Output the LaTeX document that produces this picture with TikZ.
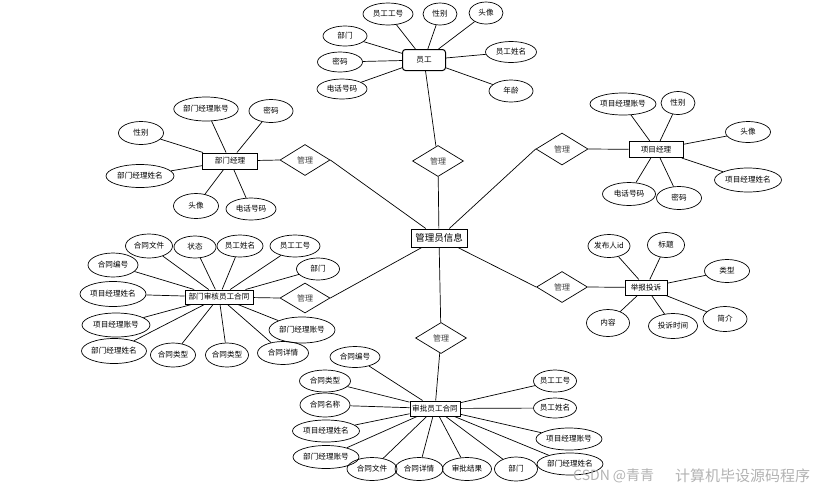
\documentclass[tikz,border=0pt]{standalone}
\usepackage{fontspec}
\setmainfont{Noto Sans CJK SC}
\usetikzlibrary{shapes.geometric}
\begin{document}
\begin{tikzpicture}[x=1pt,y=-1pt,
  attr/.style={ellipse,draw,line width=0.7pt,inner sep=0pt,font=\fontsize{7.6}{8}\selectfont},
  ent/.style={rectangle,draw,line width=1pt,inner sep=1pt,font=\fontsize{7.6}{9}\selectfont,fill=white},
  rel/.style={diamond,draw,line width=0.7pt,inner sep=0pt,minimum width=51pt,minimum height=31pt,font=\fontsize{8}{9}\selectfont,text=black!75},
  ln/.style={line width=0.7pt},
  wh/.style 2 args={minimum width=#1pt,minimum height=#2pt}]
\useasboundingbox (0,0) rectangle (824,491);

% centre
\node[ent,wh={56}{18},font=\fontsize{9.5}{11}\selectfont] (c) at (439,238) {管理员信息};

% employee
\node[ent,rounded corners=3pt,wh={43}{21}] (yg) at (424,60) {员工};
\node[attr,wh={50}{22}] (yg1) at (388,14) {员工工号};
\node[attr,wh={34}{22}] (yg2) at (440,14) {性别};
\node[attr,wh={34}{22}] (yg3) at (486,13) {头像};
\node[attr,wh={44}{20}] (yg4) at (345,36) {部门};
\node[attr,wh={45}{20}] (yg5) at (340,62) {密码};
\node[attr,wh={50}{20}] (yg6) at (342,89) {电话号码};
\node[attr,wh={51}{21}] (yg7) at (511,52) {员工姓名};
\node[attr,wh={44}{22}] (yg8) at (511,91) {年龄};
\node[rel] (r1) at (438,161) {管理};
\foreach \i in {1,...,8} \draw[ln] (yg) -- (yg\i);
\draw[ln] (yg) -- (r1) -- (c);

% department manager
\node[ent,wh={55}{16}] (bm) at (230,161) {部门经理};
\node[attr,wh={64}{24}] (bm1) at (206,109) {部门经理账号};
\node[attr,wh={44}{23}] (bm2) at (271,111) {密码};
\node[attr,wh={45}{23}] (bm3) at (141,133) {性别};
\node[attr,wh={68}{23}] (bm4) at (140,176) {部门经理姓名};
\node[attr,wh={45}{25}] (bm5) at (196,206) {头像};
\node[attr,wh={50}{22}] (bm6) at (251,209) {电话号码};
\node[rel,wh={50}{31}] (r2) at (305,160) {管理};
\foreach \i in {1,...,6} \draw[ln] (bm) -- (bm\i);
\draw[ln] (bm) -- (r2.west);
\draw[ln] (r2.east) -- (c);

% project manager
\node[ent,wh={54}{16}] (xm) at (656,149.5) {项目经理};
\node[attr,wh={66}{22}] (xm1) at (623,104) {项目经理账号};
\node[attr,wh={34}{23}] (xm2) at (678,103) {性别};
\node[attr,wh={45}{21}] (xm3) at (748,132) {头像};
\node[attr,wh={67}{24}] (xm4) at (748,180) {项目经理姓名};
\node[attr,wh={53}{23}] (xm5) at (629,194) {电话号码};
\node[attr,wh={45}{23}] (xm6) at (679,198) {密码};
\node[rel,wh={52}{32}] (r3) at (562,149) {管理};
\foreach \i in {1,...,6} \draw[ln] (xm) -- (xm\i);
\draw[ln] (xm) -- (r3.east);
\draw[ln] (r3.west) -- (c);

% department review contract
\node[ent,wh={68}{14}] (bh) at (219,297) {部门审核员工合同};
\node[attr,wh={47}{24}] (bh1) at (149,246) {合同文件};
\node[attr,wh={42}{22}] (bh2) at (195,247) {状态};
\node[attr,wh={46}{22}] (bh3) at (240,246) {员工姓名};
\node[attr,wh={50}{22}] (bh4) at (295,246) {员工工号};
\node[attr,wh={43}{22}] (bh5) at (318,269) {部门};
\node[attr,wh={50}{24}] (bh6) at (113,265) {合同编号};
\node[attr,wh={66}{25}] (bh7) at (113,294) {项目经理姓名};
\node[attr,wh={68}{24}] (bh8) at (116,325) {项目经理账号};
\node[attr,wh={65}{25}] (bh9) at (114,351) {部门经理姓名};
\node[attr,wh={45}{24}] (bh10) at (173,355) {合同类型};
\node[attr,wh={43}{24}] (bh11) at (227,355) {合同类型};
\node[attr,wh={51}{23}] (bh12) at (283,353) {合同详情};
\node[attr,wh={66}{26}] (bh13) at (302,330) {部门经理账号};
\node[rel,wh={50}{30}] (r4) at (305,298) {管理};
\foreach \i in {1,...,13} \draw[ln] (bh) -- (bh\i);
\draw[ln] (bh) -- (r4.west);
\draw[ln] (r4.east) -- (c);

% complaints
\node[ent,wh={42}{15}] (jb) at (646,287.5) {举报投诉};
\node[attr,wh={42}{23}] (jb1) at (609,246) {发布人id};
\node[attr,wh={37}{25}] (jb2) at (666,245) {标题};
\node[attr,wh={45}{23}] (jb3) at (727,271) {类型};
\node[attr,wh={44}{25}] (jb4) at (725,319) {简介};
\node[attr,wh={43}{27}] (jb5) at (608,323) {内容};
\node[attr,wh={49}{25}] (jb6) at (673,326) {投诉时间};
\node[rel,wh={51}{31}] (r5) at (562,287) {管理};
\foreach \i in {1,...,6} \draw[ln] (jb) -- (jb\i);
\draw[ln] (jb) -- (r5.east);
\draw[ln] (r5.west) -- (c);

% approval contract
\node[ent,wh={50}{15}] (sp) at (435,408.5) {审批员工合同};
\node[attr,wh={50}{21}] (sp1) at (355,357) {合同编号};
\node[attr,wh={51}{22}] (sp2) at (325,381) {合同类型};
\node[attr,wh={50}{24}] (sp3) at (325,405) {合同名称};
\node[attr,wh={67}{22}] (sp4) at (326,431) {项目经理姓名};
\node[attr,wh={66}{23}] (sp5) at (326,457) {部门经理账号};
\node[attr,wh={50}{23}] (sp6) at (372,469) {合同文件};
\node[attr,wh={48}{23}] (sp7) at (419,469) {合同详情};
\node[attr,wh={49}{23}] (sp8) at (467,469) {审批结果};
\node[attr,wh={43}{24}] (sp9) at (516,469) {部门};
\node[attr,wh={66}{22}] (sp10) at (570,464) {部门经理姓名};
\node[attr,wh={66}{22}] (sp11) at (569,439) {项目经理账号};
\node[attr,wh={41}{20}] (sp12) at (555,408) {员工姓名};
\node[attr,wh={41}{22}] (sp13) at (555,381) {员工工号};
\node[rel] (r6) at (441,338) {管理};
\foreach \i in {1,...,13} \draw[ln] (sp) -- (sp\i);
\draw[ln] (sp) -- (r6) -- (c);

% watermark
\node[anchor=west,inner sep=0pt,text=black!30,font=\fontsize{14}{15}\selectfont] (wm1) at (573,476) {CSDN @青青};
\node[anchor=west,inner sep=0pt,text=black!30,font=\fontsize{15}{16}\selectfont] (wm2) at (675,476) {计算机毕设源码程序};
\end{tikzpicture}
\end{document}
